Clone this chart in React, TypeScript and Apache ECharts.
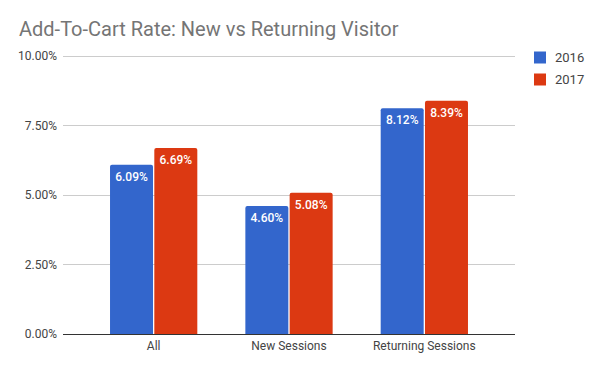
import React, { useEffect, useRef } from "react";
import * as echarts from "echarts";

const categories = ["All", "New Sessions", "Returning Sessions"];
const series2016 = [6.09, 4.6, 8.12];
const series2017 = [6.69, 5.08, 8.39];
const seriesNames = ["2016", "2017"];
const yTicks = { min: 0, max: 10, interval: 2.5 };

const BLUE = "#3366cc";
const RED = "#dc3912";

export default function App() {
  const ref = useRef<HTMLDivElement>(null);
  useEffect(() => {
    document.body.style.margin = "0";
    if (!ref.current) return;
    const chart = echarts.init(ref.current, undefined, { renderer: "svg" });
    const font = "Roboto, Arial, sans-serif";
    const label = {
      show: true,
      position: "insideTop" as const,
      distance: 6,
      color: "#fff",
      fontSize: 12,
      fontWeight: 500,
      fontFamily: font,
      formatter: (p: any) => p.value.toFixed(2) + "%",
    };
    chart.setOption({
      animation: false,
      textStyle: { fontFamily: font },
      title: {
        text: "Add-To-Cart Rate: New vs Returning Visitor",
        left: 14,
        top: 14,
        textStyle: { color: "#757575", fontSize: 20, fontWeight: "normal", fontFamily: font },
      },
      legend: {
        orient: "vertical",
        left: 529,
        top: 46,
        itemWidth: 12,
        itemHeight: 12,
        itemGap: 9,
        icon: "rect",
        data: seriesNames,
        textStyle: { color: "#444", fontSize: 13, fontFamily: font, padding: [0, 0, 0, 4] },
      },
      grid: [
        { left: 63, right: 85, top: 56, bottom: 37 },
        { left: 86, right: 108, top: 56, bottom: 37 },
      ],
      xAxis: [
        { type: "category", gridIndex: 0, data: categories, show: false },
        {
          type: "category",
          gridIndex: 1,
          data: categories,
          axisLine: { show: false },
          axisTick: { show: false },
          axisLabel: { color: "#444", fontSize: 12, margin: 6, fontFamily: font },
        },
      ],
      yAxis: [
        {
          type: "value",
          gridIndex: 0,
          min: yTicks.min,
          max: yTicks.max,
          interval: yTicks.interval,
          axisLine: { show: false },
          axisTick: { show: false },
          splitLine: { lineStyle: { color: "#cccccc", width: 1 } },
          axisLabel: {
            color: "#444",
            fontSize: 12,
            margin: 6,
            fontFamily: font,
            formatter: (v: number) => v.toFixed(2) + "%",
          },
        },
        {
          type: "value",
          gridIndex: 1,
          min: yTicks.min,
          max: yTicks.max,
          interval: yTicks.interval,
          show: false,
          splitLine: { show: false },
        },
      ],
      series: [
        {
          name: seriesNames[0],
          type: "bar",
          xAxisIndex: 1,
          yAxisIndex: 1,
          data: series2016,
          barWidth: 43,
          barGap: "3%",
          itemStyle: { color: BLUE, borderRadius: [2, 2, 0, 0] },
          label,
        },
        {
          name: seriesNames[1],
          type: "bar",
          xAxisIndex: 1,
          yAxisIndex: 1,
          data: series2017,
          barWidth: 43,
          barGap: "3%",
          itemStyle: { color: RED, borderRadius: [2, 2, 0, 0] },
          label,
        },
        {
          type: "line",
          xAxisIndex: 0,
          yAxisIndex: 0,
          data: [],
          silent: true,
          markLine: {
            symbol: "none",
            silent: true,
            label: { show: false },
            lineStyle: { color: "#333", width: 1, type: "solid" },
            data: [{ yAxis: 0 }],
          },
        },
      ],
    });
    return () => chart.dispose();
  }, []);
  return <div ref={ref} style={{ width: 600, height: 371 }} />;
}
